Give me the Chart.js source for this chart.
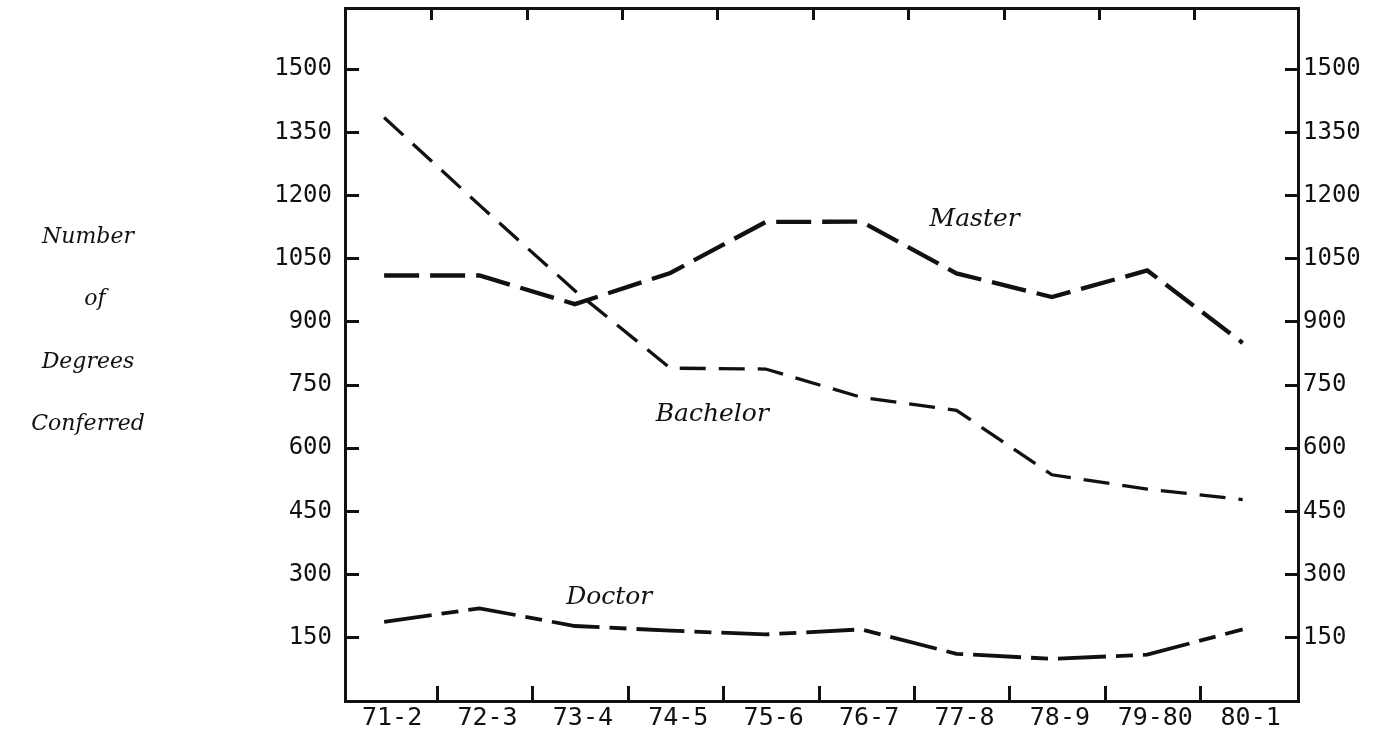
<!DOCTYPE html>
<html>
<head>
<meta charset="utf-8">
<title>Number of Degrees Conferred</title>
<script src="https://cdn.jsdelivr.net/npm/chart.js@4.4.1/dist/chart.umd.min.js"></script>
<style>
  body { margin: 0; background: #fff; }
</style>
</head>
<body>
<canvas id="myChart" width="1382" height="733"></canvas>
<script>
// values
const years = ['71-2', '72-3', '73-4', '74-5', '75-6', '76-7', '77-8', '78-9', '79-80', '80-1'];
const master = [1010, 1010, 942, 1016, 1137, 1138, 1015, 959, 1022, 850];
const bachelor = [1385, 1177, 974, 790, 788, 721, 690, 537, 503, 478];
const doctor = [188, 220, 178, 167, 158, 170, 112, 100, 110, 170];
const yTicks = [150, 300, 450, 600, 750, 900, 1050, 1200, 1350, 1500];
const seriesNames = ['Master', 'Bachelor', 'Doctor'];
const yTitle = ['Number', 'of', 'Degrees', 'Conferred'];

const ink = '#111';
const numFont = '"DejaVu Sans Mono"';
const xMin = -0.41, xMax = 9.58;
const yMax = 1645;

// where the series names sit, in data units (x index, value)
const nameAt = [[6.19, 1142], [3.44, 679], [2.36, 245]];

function toPoints(arr) {
  return arr.map((v, i) => ({ x: i, y: v }));
}

// force the box size of an axis so the frame lands where the original is
function fixSize(size) {
  return function (scale) {
    if (scale.isHorizontal()) scale.height = size;
    else scale.width = size;
    scale.paddingLeft = 0;
    scale.paddingRight = 0;
    scale.paddingTop = 0;
    scale.paddingBottom = 0;
  };
}

function tickMarks(shift) {
  return function (scale) {
    scale.ticks = years.slice(1).map((y, i) => ({ value: i + shift }));
  };
}

const frame = { display: true, color: ink, width: 3 };
function inward(len) {
  return { drawOnChartArea: false, drawTicks: true, tickLength: -len, tickWidth: 3, tickColor: ink, color: ink, lineWidth: 3 };
}

const notes = {
  id: 'notes',
  afterDraw(chart) {
    const ctx = chart.ctx;
    const xs = chart.scales.x;
    const ys = chart.scales.y;
    ctx.save();
    ctx.fillStyle = ink;
    ctx.font = 'italic 25px "DejaVu Serif"';
    ctx.textAlign = 'center';
    ctx.textBaseline = 'middle';
    seriesNames.forEach((name, i) => {
      ctx.fillText(name, xs.getPixelForValue(nameAt[i][0]), ys.getPixelForValue(nameAt[i][1]));
    });
    ctx.font = 'italic 22px "DejaVu Serif"';
    ctx.textBaseline = 'alphabetic';
    yTitle.forEach((t, i) => {
      ctx.fillText(t, t === 'of' ? 95 : 88, 243 + i * 62.3);
    });
    ctx.restore();
  }
};

const ctx = document.getElementById('myChart').getContext('2d');
const myChart = new Chart(ctx, {
  type: 'line',
  data: {
    datasets: [{
      label: 'Master',
      data: toPoints(master),
      borderColor: ink,
      borderWidth: 4.3,
      borderDash: [35, 11]
    }, {
      label: 'Bachelor',
      data: toPoints(bachelor),
      borderColor: ink,
      borderWidth: 3.3,
      borderDash: [26, 13]
    }, {
      label: 'Doctor',
      data: toPoints(doctor),
      borderColor: ink,
      borderWidth: 3.8,
      borderDash: [48, 10, 17, 10]
    }]
  },
  options: {
    responsive: false,
    animation: false,
    events: [],
    elements: {
      point: { radius: 0 },
      line: { tension: 0, borderCapStyle: 'butt', fill: false }
    },
    plugins: {
      legend: { display: false },
      tooltip: { enabled: false }
    },
    scales: {
      x: {
        type: 'linear',
        position: 'bottom',
        weight: 1,
        min: xMin,
        max: xMax,
        border: { display: false },
        grid: { display: false, drawTicks: false },
        ticks: {
          color: ink,
          font: { family: numFont, size: 25 },
          padding: 2,
          labelOffset: 8,
          autoSkip: false,
          maxRotation: 0,
          callback: v => years[v]
        },
        afterBuildTicks: s => { s.ticks = years.map((y, i) => ({ value: i })); },
        afterFit: fixSize(32)
      },
      xt: {
        type: 'linear',
        position: 'bottom',
        weight: 0,
        min: xMin,
        max: xMax,
        border: frame,
        grid: inward(15),
        ticks: { display: false },
        afterBuildTicks: tickMarks(0.56),
        afterFit: fixSize(0)
      },
      x2: {
        type: 'linear',
        position: 'top',
        min: xMin,
        max: xMax,
        border: frame,
        grid: inward(12),
        ticks: { display: false },
        afterBuildTicks: tickMarks(0.5),
        afterFit: fixSize(8)
      },
      y: {
        type: 'linear',
        position: 'left',
        min: 0,
        max: yMax,
        border: frame,
        grid: inward(14),
        ticks: {
          color: ink,
          font: { family: numFont, size: 24 },
          padding: 27,
          callback: v => String(v)
        },
        afterBuildTicks: s => { s.ticks = yTicks.map(v => ({ value: v })); },
        afterFit: fixSize(345)
      },
      y2: {
        type: 'linear',
        position: 'right',
        min: 0,
        max: yMax,
        border: frame,
        grid: inward(13),
        ticks: {
          color: ink,
          font: { family: numFont, size: 24 },
          padding: 18,
          callback: v => String(v)
        },
        afterBuildTicks: s => { s.ticks = yTicks.map(v => ({ value: v })); },
        afterFit: fixSize(84)
      }
    }
  },
  plugins: [notes]
});
</script>
</body>
</html>
